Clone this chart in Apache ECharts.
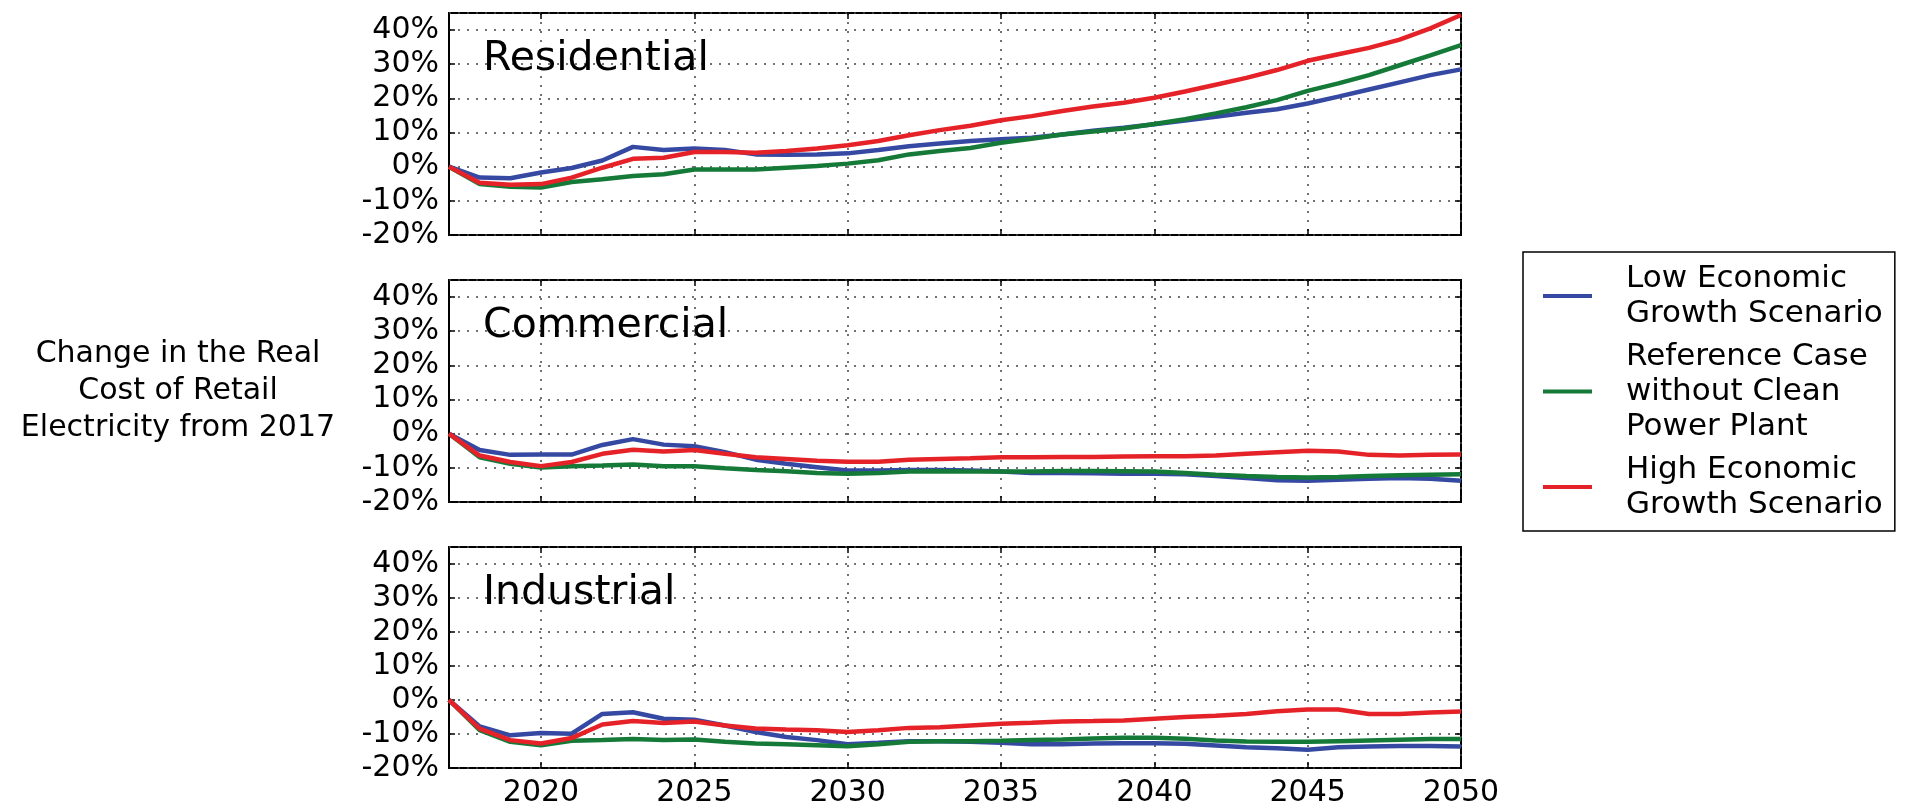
<!DOCTYPE html>
<html>
<head>
<meta charset="utf-8">
<script src="https://cdn.jsdelivr.net/npm/echarts@6/dist/echarts.min.js"></script>
<style>
html,body{margin:0;padding:0;background:#fff;}
#chart{width:1907px;height:808px;}
</style>
</head>
<body>
<div id="chart"></div>
<script>
const years = [2017,2018,2019,2020,2021,2022,2023,2024,2025,2026,2027,2028,2029,2030,2031,2032,2033,2034,2035,2036,2037,2038,2039,2040,2041,2042,2043,2044,2045,2046,2047,2048,2049,2050];
const panelTitles = ['Residential','Commercial','Industrial'];
const seriesNames = ['Low Economic Growth Scenario','Reference Case without Clean Power Plant','High Economic Growth Scenario'];
const legendLabels = ['Low Economic\nGrowth Scenario','Reference Case\nwithout Clean\nPower Plant','High Economic\nGrowth Scenario'];
const yTitle = 'Change in the Real\nCost of Retail\nElectricity from 2017';

const resLow  = [0,-3.2,-3.4,-1.7,-0.4,1.8,5.8,4.9,5.3,4.9,3.6,3.5,3.6,3.9,4.9,6.0,6.8,7.5,8.0,8.5,9.4,10.5,11.4,12.4,13.5,14.6,15.8,16.8,18.5,20.5,22.6,24.7,26.8,28.5];
const resRef  = [0,-5.1,-5.9,-6.1,-4.5,-3.7,-2.7,-2.2,-0.8,-0.8,-0.8,-0.3,0.2,0.9,1.9,3.6,4.6,5.5,7.0,8.2,9.4,10.3,11.2,12.5,13.9,15.6,17.4,19.5,22.2,24.4,26.8,29.7,32.6,35.6];
const resHigh = [0,-4.7,-5.3,-5.1,-3.2,-0.3,2.3,2.6,4.3,4.3,4.1,4.6,5.3,6.3,7.5,9.2,10.7,12.0,13.6,14.8,16.3,17.6,18.7,20.2,22.0,24.0,26.0,28.3,31.0,32.9,34.8,37.2,40.5,44.4];

const comLow  = [0,-4.8,-6.2,-6.1,-6.1,-3.3,-1.6,-3.2,-3.7,-5.4,-7.6,-8.8,-9.8,-10.8,-10.8,-10.6,-10.6,-10.8,-11.1,-11.5,-11.5,-11.6,-11.7,-11.7,-11.9,-12.4,-13.0,-13.6,-13.8,-13.5,-13.2,-13.0,-13.2,-13.8];
const comRef  = [0,-6.9,-8.8,-9.9,-9.5,-9.3,-9.0,-9.5,-9.5,-10.1,-10.6,-11.0,-11.5,-11.7,-11.5,-11.1,-11.0,-11.1,-11.1,-11.1,-10.9,-10.9,-11.0,-11.1,-11.5,-12.0,-12.4,-12.7,-12.8,-12.7,-12.4,-12.2,-12.0,-11.9];
const comHigh = [0,-6.4,-8.3,-9.5,-8.3,-5.9,-4.7,-5.2,-4.8,-5.9,-6.9,-7.4,-7.9,-8.2,-8.2,-7.6,-7.4,-7.2,-6.9,-6.9,-6.8,-6.8,-6.7,-6.6,-6.6,-6.4,-5.9,-5.4,-5.0,-5.2,-6.2,-6.4,-6.2,-6.1];

const indLow  = [0,-7.8,-10.4,-9.7,-9.9,-4.1,-3.6,-5.5,-5.8,-7.5,-9.4,-10.9,-11.8,-13.0,-12.6,-12.1,-12.1,-12.3,-12.6,-13.0,-13.0,-12.8,-12.7,-12.7,-12.9,-13.4,-13.9,-14.2,-14.6,-13.9,-13.7,-13.5,-13.5,-13.7];
const indRef  = [0,-8.9,-12.3,-13.3,-12.0,-11.8,-11.5,-11.8,-11.6,-12.3,-12.8,-13.0,-13.3,-13.6,-13.0,-12.3,-12.1,-12.1,-12.0,-11.8,-11.6,-11.3,-11.1,-11.1,-11.4,-11.9,-12.2,-12.3,-12.3,-12.1,-11.9,-11.7,-11.5,-11.5];
const indHigh = [0,-8.4,-11.8,-12.8,-11.2,-7.2,-6.2,-6.8,-6.3,-7.5,-8.4,-8.7,-8.9,-9.4,-8.9,-8.2,-8.0,-7.5,-7.0,-6.7,-6.3,-6.2,-6.0,-5.5,-5.0,-4.6,-4.1,-3.3,-2.8,-2.8,-4.1,-4.1,-3.7,-3.4];

const panelData = [[resLow,resRef,resHigh],[comLow,comRef,comHigh],[indLow,indRef,indHigh]];
const colors = ['#3549a3','#157a38','#e62229'];
const FONT = '"DejaVu Sans", "Noto Sans", sans-serif';

const gridTops = [13, 280, 547];
const gridH = 222;
const every5 = (i, v) => (+v) % 5 === 0;
const dotted = {color:'#444', width:1.5, type:[2,7]};

const grids = [], xAxes = [], yAxes = [], series = [], titles = [];
gridTops.forEach((top, g) => {
  grids.push({left:449, right:446, top:top, height:gridH, show:true, borderColor:'#000', borderWidth:2, backgroundColor:'#fff'});
  xAxes.push({
    type:'category', data:years, boundaryGap:false, gridIndex:g, position:'bottom',
    axisLine:{show:false, onZero:false},
    axisTick:{show:true, inside:true, length:6, interval:every5, lineStyle:{color:'#000', width:1.5}},
    axisLabel:{show:g===2, interval:every5, fontSize:30, fontFamily:FONT, color:'#000', margin:10},
    splitLine:{show:true, interval:every5, lineStyle:dotted}
  });
  xAxes.push({
    type:'category', data:years, boundaryGap:false, gridIndex:g, position:'top',
    axisLine:{show:false, onZero:false},
    axisTick:{show:true, inside:true, length:6, interval:every5, lineStyle:{color:'#000', width:1.5}},
    axisLabel:{show:false}, splitLine:{show:false}
  });
  yAxes.push({
    type:'value', min:-20, max:45, interval:10, gridIndex:g, position:'left',
    axisLine:{show:false, onZero:false},
    axisTick:{show:true, inside:true, length:6, lineStyle:{color:'#000', width:1.5}},
    axisLabel:{formatter:'{value}%', showMaxLabel:false, fontSize:30, fontFamily:FONT, color:'#000', margin:10},
    splitLine:{show:true, lineStyle:dotted}
  });
  yAxes.push({
    type:'value', min:-20, max:45, interval:10, gridIndex:g, position:'right',
    axisLine:{show:false, onZero:false},
    axisTick:{show:true, inside:true, length:6, lineStyle:{color:'#000', width:1.5}},
    axisLabel:{show:false}, splitLine:{show:false}
  });
  panelData[g].forEach((arr, s) => {
    series.push({
      name:seriesNames[s], type:'line', data:arr,
      xAxisIndex:g*2, yAxisIndex:g*2, showSymbol:false, symbol:'none',
      lineStyle:{width:4.5, color:colors[s]}, itemStyle:{color:colors[s]},
      z:2+s, animation:false
    });
  });
  titles.push({text:panelTitles[g], left:483, top:top+26, padding:0,
    textStyle:{fontSize:41, fontWeight:'normal', color:'#000', fontFamily:FONT}});
});

const chart = echarts.init(document.getElementById('chart'), null, {renderer:'canvas'});
chart.setOption({
  animation:false,
  backgroundColor:'#fff',
  title:titles,
  grid:grids,
  xAxis:xAxes,
  yAxis:yAxes,
  legend:{
    data:seriesNames, orient:'vertical', left:1523, top:252,
    padding:[9, 12, 9, 20], borderColor:'#000', borderWidth:1.5,
    icon:'rect', itemWidth:49, itemHeight:4, itemGap:8,
    formatter:(name) => legendLabels[seriesNames.indexOf(name)],
    textStyle:{fontSize:31, lineHeight:35, color:'#000', fontFamily:FONT, padding:[0,0,0,29]}
  },
  graphic:[{
    type:'text', x:178, y:336,
    style:{text:yTitle, textAlign:'center', textVerticalAlign:'top', fontSize:30, lineHeight:37, fontFamily:FONT, fill:'#000'}
  }],
  series:series
});
</script>
</body>
</html>
